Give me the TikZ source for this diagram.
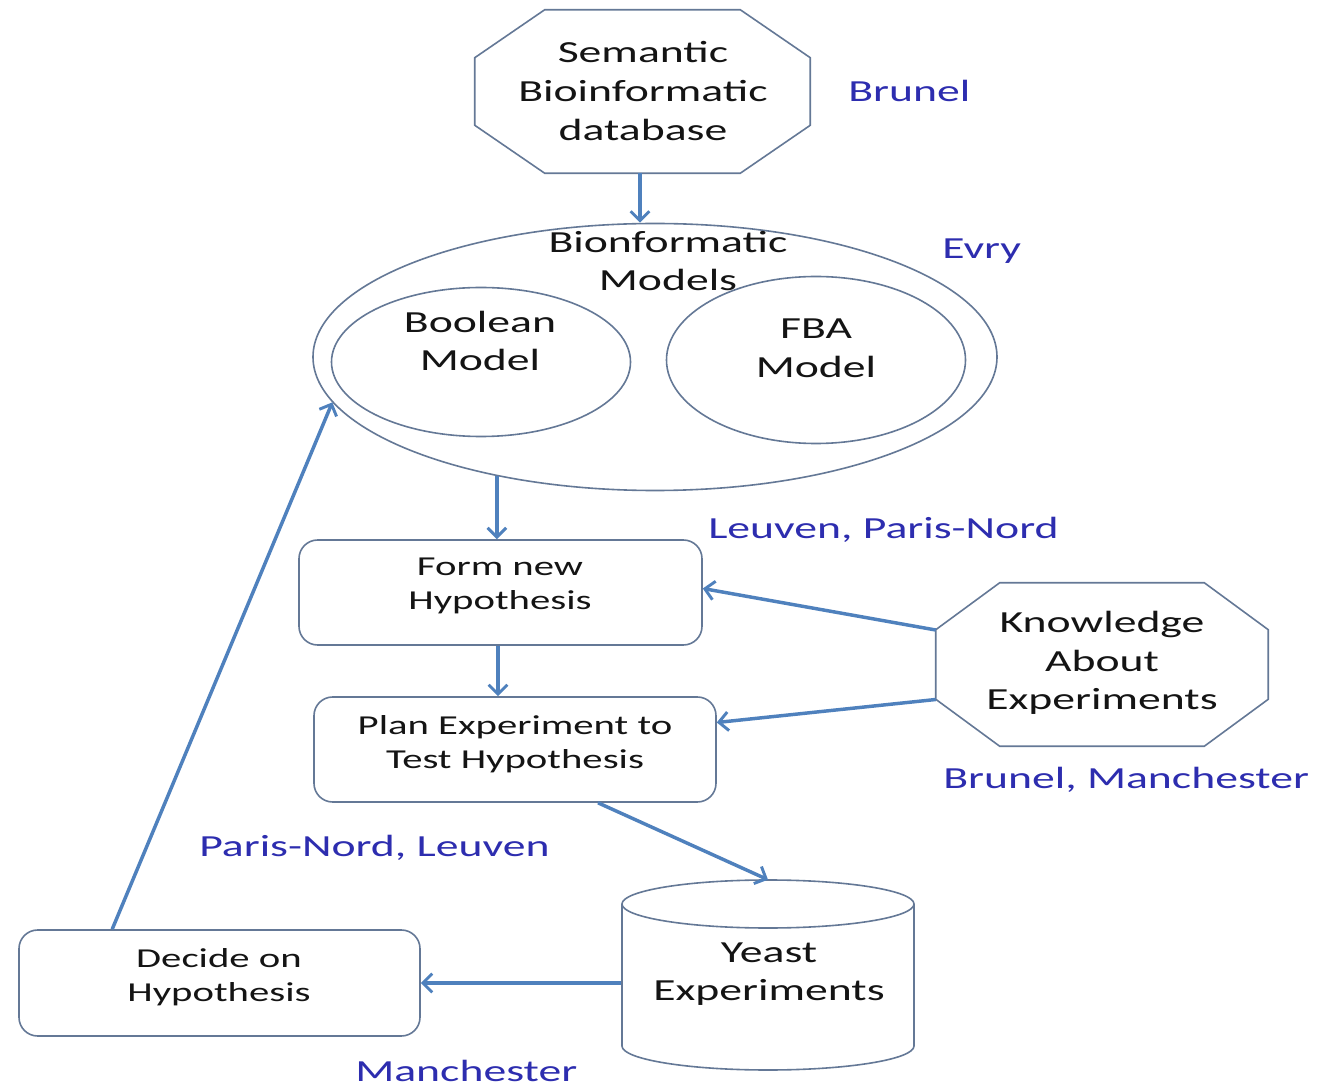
\documentclass[tikz,border=0pt]{standalone}
\usepackage{fontspec}
\setmainfont{Carlito}[FakeStretch=1.49]
\usetikzlibrary{arrows.meta,shapes.geometric,calc}
\definecolor{edge}{RGB}{79,129,189}
\definecolor{outl}{RGB}{100,120,150}
\definecolor{lbl}{RGB}{45,45,175}
\definecolor{txt}{RGB}{20,20,20}
\begin{document}
\begin{tikzpicture}[x=0.75pt,y=-0.75pt,
  arr/.style={draw=edge,line width=2.6pt,-{Straight Barb[length=7pt,width=14pt,line width=2.2pt]}},
  shp/.style={draw=outl,line width=1.2pt},
  big/.style={font=\fontsize{23}{29}\selectfont,text=txt,align=center},
  small/.style={font=\fontsize{20.5}{25.5}\selectfont,text=txt,align=center},
  tag/.style={font=\fontsize{23}{29}\selectfont,text=lbl,anchor=west,inner sep=0pt},
  box/.style={shp,rounded corners=14pt,inner sep=0pt},
  frame/.style={inner sep=0pt,draw=none},
  oval/.style={shp,ellipse,inner sep=0pt},
]
\useasboundingbox[fill=white] (0,0) rectangle (1329,1087);

% top octagon
\node[frame,minimum width=251.25pt,minimum height=122.25pt] (db) at (642.5,91.5) {};
\draw[shp] ([xshift=52.5pt]db.north west) -- ([xshift=-52.5pt]db.north east)
  -- ([yshift=-36pt]db.north east) -- ([yshift=36pt]db.south east)
  -- ([xshift=-52.5pt]db.south east) -- ([xshift=52.5pt]db.south west)
  -- ([yshift=36pt]db.south west) -- ([yshift=-36pt]db.north west) -- cycle;
\node[big] (dbt) at (643,91) {Semantic\\Bioinformatic\\database};

% models
\node[oval,minimum width=513pt,minimum height=200.25pt] (outer) at (655,357) {};
\node[oval,minimum width=224.25pt,minimum height=111.75pt] (bool) at (481,362) {};
\node[oval,minimum width=224.25pt,minimum height=125.25pt] (fba) at (816,360) {};
\node[big] (outert) at (668,261) {Bionformatic\\Models};
\node[big] (boolt) at (480,341) {Boolean\\Model};
\node[big] (fbat) at (816,348) {FBA\\Model};

% boxes
\node[box,minimum width=302.25pt,minimum height=78.75pt] (form) at (500.5,592.5) {};
\node[small] (formt) at (500,586) {Form new\\Hypothesis};
\node[box,minimum width=301.5pt,minimum height=78.75pt] (plan) at (515,749.5) {};
\node[small] (plant) at (515,744) {Plan Experiment to\\Test Hypothesis};
\node[box,minimum width=300.75pt,minimum height=79.5pt] (decide) at (219.5,983) {};
\node[small] (decidet) at (219,977) {Decide on\\Hypothesis};

% knowledge octagon
\node[frame,minimum width=249pt,minimum height=122.25pt] (know) at (1102,664.5) {};
\draw[shp] ([xshift=48pt]know.north west) -- ([xshift=-48pt]know.north east)
  -- ([yshift=-35.25pt]know.north east) -- ([yshift=35.25pt]know.south east)
  -- ([xshift=-48pt]know.south east) -- ([xshift=48pt]know.south west)
  -- ([yshift=35.25pt]know.south west) -- ([yshift=-35.25pt]know.north west) -- cycle;
\node[big] (knowt) at (1102,663) {Knowledge\\About\\Experiments};

% yeast cylinder
\node[frame,minimum width=219.75pt,minimum height=142.5pt] (yeast) at (768,975) {};
\draw[shp,fill=white] (768,904) ellipse [x radius=109.5pt,y radius=18pt];
\draw[shp] (622,904) -- (622,1046) arc[start angle=180,end angle=360,x radius=109.5pt,y radius=18pt] -- (914,904);
\node[big] (yeastt) at (769,974) {Yeast\\Experiments};

% labels
\node[tag] (l1) at (848,91) {Brunel};
\node[tag] (l2) at (942,251) {Evry};
\node[tag] (l3) at (708,530) {Leuven, Paris-Nord};
\node[tag] (l4) at (943,780) {Brunel, Manchester};
\node[tag] (l5) at (199,848) {Paris-Nord, Leuven};
\node[tag] (l6) at (355,1071) {Manchester};

% connectors
\draw[arr] (db.south -| 640,0) -- (outer.north -| 640,0);
\draw[arr] (outer.217.8) -- (outer.217.8 |- form.north);
\draw[arr] (form.south -| 498,0) -- (plan.north -| 498,0);
\draw[arr] ([yshift=34.5*0.75pt]know.west) -- ([yshift=4*0.75pt]form.east);
\draw[arr] ([yshift=-35*0.75pt]know.west) -- ([yshift=27*0.75pt]plan.east);
\draw[arr] ([xshift=83*0.75pt]plan.south) -- (yeast.north);
\draw[arr] (decide.east -| yeast.west) -- (decide.east);
\draw[arr] ([xshift=94*0.75pt]decide.north west) -- (outer.188.3);
\end{tikzpicture}
\end{document}
